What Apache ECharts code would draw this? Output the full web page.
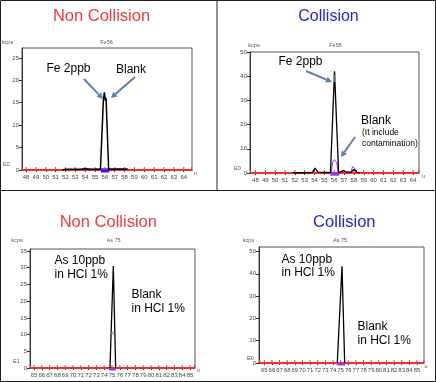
<!DOCTYPE html>
<html><head><meta charset="utf-8">
<script src="https://cdn.jsdelivr.net/npm/echarts@6/dist/echarts.min.js"></script>
<style>html,body{margin:0;padding:0;background:#fff}#c{width:436px;height:382px}</style>
</head><body><div id="c"></div>
<script>
// ---- tick labels ----
const feMassTicks = [48,49,50,51,52,53,54,55,56,57,58,59,60,61,62,63,64];
const asMassTicks = [65,66,67,68,69,70,71,72,73,74,75,76,77,78,79,80,81,82,83,84,85];
const feNcYTicks = [0,5,10,15,20,25];
const feCYTicks = [0,10,20,30,40,50];
const asNcYTicks = [0,5,10,15,20,25,30,35];
const asCYTicks = [0,10,20,30,40,50];

// ---- red baseline extents (mass) ----
const feNcRedEnds = [47.6, 64.8];
const feCRedEnds = [47.5, 64.6];
const asNcRedEnds = [64.5, 85.6];
const asCRedEnds = [64.4, 85.9];

// ---- Fe56, non collision ----
const feNcSample = [[51.7,0],[52,0.15],[53.6,0.15],[54,0.3],[54.4,0.15],[55.55,0.1],[55.85,15.8],[55.95,17.3],[56.05,15.4],[56.12,16.1],[56.38,0.1],[57,0.15],[58.3,0.15]];
const feNcBlank = [[55.6,-0.25],[56.45,-0.25]];
const feNcBlankTail = [[53.65,0.2],[54,0.4],[54.35,0.2],[56.5,0.3],[58.3,0.3]];
// ---- Fe56, collision ----
const feCSample = [[51.8,0.1],[53.5,0.1],[53.8,0.4],[54.05,2.0],[54.35,0.4],[55.62,0.1],[56.03,42],[56.45,0.1],[56.65,0.3],[56.95,1.1],[57.2,0.3],[57.7,0.3],[58.0,1.5],[58.3,0.3],[58.6,0.1]];
const feCBlank = [[55.7,0.1],[55.85,4.5],[56.0,5.5],[56.25,4.5],[56.4,0.1],[56.9,0.8],[57.7,0.2],[57.85,2.6],[58.0,3.1],[58.2,1.5],[58.35,0.2]];
const feCBlankBase = [[55.6,-0.5],[56.5,-0.5]];
const feCPeakMark = [[56.03,39]];
// ---- As75 ----
const asNcSample = [[74.74,0],[75.17,30.5],[75.47,0]];
const asNcBlank = [[74.6,-0.3],[75.5,-0.3]];
const asNcMid = [[75.1,10.5]];
const asCSample = [[74.56,0],[75.18,43.4],[75.53,0]];
const asCBlank = [[74.5,-0.5],[75.6,-0.5]];

const RED = '#f03030', PURPLE = '#8a3cf0', BLUE = '#3020e0', ARROW = '#5c80a8';

function baseline(ticks, ends){ return [[ends[0],0]].concat(ticks.map(m => [m, 0]), [[ends[1],0]]); }

const grids = [
  {left:22, top:48, width:170, height:122},
  {left:250, top:52, width:169, height:121},
  {left:30, top:249, width:165, height:119},
  {left:259, top:247, width:165, height:116}
];
const xCfg = [
  {min:47.59, max:64.84, ticks:feMassTicks},
  {min:47.45, max:64.61, ticks:feMassTicks},
  {min:64.49, max:85.64, ticks:asMassTicks},
  {min:64.31, max:85.92, ticks:asMassTicks}
];
const yCfg = [
  {min:0, max:27.2, ticks:feNcYTicks},
  {min:0, max:50, ticks:feCYTicks},
  {min:0, max:35.6, ticks:asNcYTicks},
  {min:0, max:52, ticks:asCYTicks}
];

const xAxis = xCfg.map((c,i) => ({
  type:'value', gridIndex:i, min:c.min, max:c.max,
  axisLine:{show:true, onZero:false, lineStyle:{color:'#333', width:1}},
  axisTick:{show:true, length:2, customValues:c.ticks, lineStyle:{color:'#333'}},
  splitLine:{show:false},
  axisLabel:{customValues:c.ticks, fontSize:6, color:'#444', margin:4, fontFamily:'Liberation Sans'}
}));
const yAxis = yCfg.map((c,i) => ({
  type:'value', gridIndex:i, min:c.min, max:c.max,
  axisLine:{show:true, lineStyle:{color:'#333', width:1}},
  axisTick:{show:true, length:3, customValues:c.ticks, lineStyle:{color:'#333'}},
  splitLine:{show:false},
  axisLabel:{customValues:c.ticks, fontSize:6, color:'#444', margin:3, fontFamily:'Liberation Sans'}
}));

function ln(i, data, color, width, z){
  return {type:'line', xAxisIndex:i, yAxisIndex:i, data:data, showSymbol:false, symbol:'none',
    lineStyle:{color:color, width:width}, z:z||3, silent:true, animation:false, clip:false};
}
function redBase(i, ticks, ends){
  return {type:'line', xAxisIndex:i, yAxisIndex:i, data:baseline(ticks, ends), symbol:'rect', symbolSize:[1,3], symbolOffset:[0,-1.5],
    itemStyle:{color:RED}, lineStyle:{color:RED, width:2}, z:2, silent:true, animation:false};
}

const series = [
  redBase(0, feMassTicks, feNcRedEnds),
  ln(0, feNcBlankTail, PURPLE, 1.5, 3),
  ln(0, feNcBlank, BLUE, 3, 4),
  ln(0, feNcSample, '#000', 1.5, 5),

  redBase(1, feMassTicks, feCRedEnds),
  ln(1, feCBlank, PURPLE, 1, 3),
  ln(1, feCBlankBase, PURPLE, 3, 4),
  ln(1, feCSample, '#000', 1.3, 5),
  {type:'scatter', xAxisIndex:1, yAxisIndex:1, data:feCPeakMark, symbol:'rect', symbolSize:[3,7], itemStyle:{color:'#8a8a8a'}, z:6, silent:true, animation:false},

  redBase(2, asMassTicks, asNcRedEnds),
  ln(2, asNcBlank, PURPLE, 3, 4),
  ln(2, asNcSample, '#000', 1.3, 5),
  {type:'scatter', xAxisIndex:2, yAxisIndex:2, data:asNcMid, symbolSize:3, itemStyle:{color:'#6cc8b0'}, z:6, silent:true, animation:false},

  redBase(3, asMassTicks, asCRedEnds),
  ln(3, asCBlank, PURPLE, 3, 4),
  ln(3, asCSample, '#000', 1.3, 5)
];

const F = 'Liberation Sans, Arial, sans-serif';
function txt(x, y, s, size, color, align){
  return {type:'text', x:x, y:y, silent:true, z:20,
    style:{text:s, fontSize:size, fill:color||'#000', font:size+'px '+F, align:align||'left', verticalAlign:'middle', fontFamily:F}};
}
function arrow(x1,y1,x2,y2){
  const a = Math.atan2(y2-y1, x2-x1), L = 6, W = 3.2;
  const bx = x2 - L*Math.cos(a), by = y2 - L*Math.sin(a);
  const px = -Math.sin(a)*W, py = Math.cos(a)*W;
  return [
    {type:'line', silent:true, z:20, shape:{x1:x1,y1:y1,x2:bx,y2:by}, style:{stroke:ARROW, lineWidth:2}},
    {type:'polygon', silent:true, z:20, shape:{points:[[x2,y2],[bx+px,by+py],[bx-px,by-py]]}, style:{fill:ARROW}}
  ];
}
const small = '#555';
const graphic = [
  // frame
  {type:'line', silent:true, shape:{x1:217,y1:0,x2:217,y2:190}, style:{stroke:'#222', lineWidth:1}},
  {type:'line', silent:true, shape:{x1:0,y1:190.5,x2:436,y2:190.5}, style:{stroke:'#222', lineWidth:1}},
  {type:'rect', silent:true, shape:{x:0.5,y:0.5,width:435,height:381}, style:{fill:null, stroke:'#222', lineWidth:1}},
  // titles
  txt(101.5, 16, 'Non Collision', 16.5, '#ee3a3a', 'center'),
  txt(328.5, 17, 'Collision', 16, '#2424d0', 'center'),
  txt(108.3, 222.5, 'Non Collision', 16.5, '#ee3a3a', 'center'),
  txt(344.3, 222.5, 'Collision', 16.5, '#2424d0', 'center'),
  // small axis texts
  txt(7.5, 42, 'kcps', 5.5, small, 'center'), txt(106.5, 42, 'Fe56', 5.5, small, 'center'),
  txt(3, 164.5, 'E0', 5.5, small, 'left'), txt(194, 173, 'u', 5.5, small, 'left'),
  txt(254, 45, 'kcps', 5.5, small, 'center'), txt(335.5, 45, 'Fe56', 5.5, small, 'center'),
  txt(234, 168, 'E0', 5.5, small, 'left'), txt(422, 176.5, 'u', 5.5, small, 'left'),
  txt(17, 240.5, 'kcps', 5.5, small, 'center'), txt(113.5, 240.5, 'As 75', 5.5, small, 'center'),
  txt(13, 361.5, 'E1', 5.5, small, 'left'), txt(197, 370, 'u', 5.5, small, 'left'),
  txt(248.5, 240, 'kcps', 5.5, small, 'center'), txt(340, 240, 'As 75', 5.5, small, 'center'),
  txt(247, 358, 'E0', 5.5, small, 'left'), txt(424.5, 366.5, 'u', 5.5, small, 'left'),
  // annotations
  txt(46.5, 68.5, 'Fe 2ppb', 12), txt(116, 70, 'Blank', 12),
  txt(278.5, 62, 'Fe 2ppb', 12), txt(361, 120.5, 'Blank', 12),
  txt(362, 132.5, '(It include', 8.5), txt(362, 144, 'contamination)', 8.5),
  txt(54.5, 261, 'As 10ppb', 12), txt(54.5, 274.5, 'in HCl 1%', 12),
  txt(131.5, 294.5, 'Blank', 12), txt(131.5, 308.5, 'in HCl 1%', 12),
  txt(281.5, 260, 'As 10ppb', 12), txt(281.5, 273, 'in HCl 1%', 12),
  txt(357.5, 327, 'Blank', 12), txt(357.5, 341, 'in HCl 1%', 12)
].concat(arrow(84,79,103,99), arrow(135,77,111,98), arrow(306,71,332,82), arrow(355,137,341,157));

const chart = echarts.init(document.getElementById('c'), null, {renderer:'canvas'});
chart.setOption({
  animation:false,
  backgroundColor:'#fff',
  grid: grids.map(g => Object.assign({show:true, borderColor:'#555', borderWidth:1, backgroundColor:'transparent'}, g)),
  xAxis: xAxis, yAxis: yAxis, series: series, graphic: graphic
});
</script></body></html>
